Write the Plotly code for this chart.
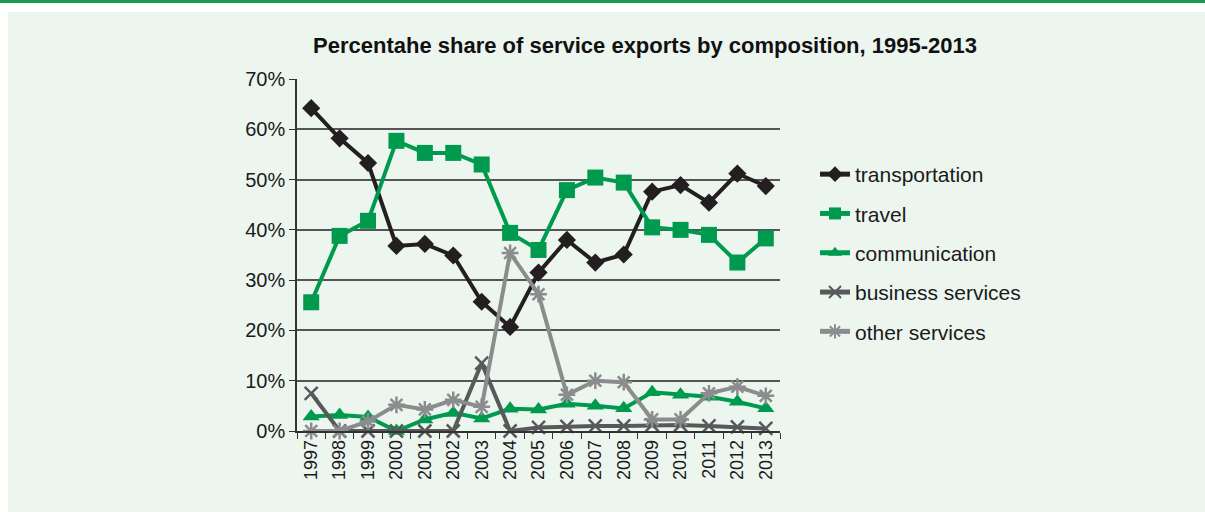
import plotly.graph_objects as go

years = [str(y) for y in range(1997, 2014)]

transportation = [64.2, 58.2, 53.3, 36.8, 37.2, 34.9, 25.7, 20.7, 31.5, 38.0, 33.5, 35.1, 47.6, 48.9, 45.4, 51.2, 48.7]
travel = [25.6, 38.8, 41.8, 57.7, 55.3, 55.3, 53.0, 39.4, 36.0, 47.9, 50.4, 49.4, 40.5, 40.0, 39.0, 33.5, 38.3]
communication = [2.9, 3.2, 2.8, 0.0, 2.3, 3.6, 2.5, 4.4, 4.3, 5.4, 5.0, 4.5, 7.7, 7.2, 6.8, 5.8, 4.5]
business_services = [7.5, 0.0, 0.0, 0.0, 0.0, 0.0, 13.5, 0.0, 0.7, 0.9, 1.0, 1.0, 1.2, 1.2, 1.0, 0.8, 0.5]
other_services = [0.0, 0.0, 1.9, 5.2, 4.3, 6.2, 4.8, 35.4, 27.2, 7.2, 10.0, 9.7, 2.3, 2.3, 7.5, 8.8, 7.0]

y_ticks = [0, 10, 20, 30, 40, 50, 60, 70]
y_tick_labels = [f"{v}%" for v in y_ticks]

BLACK = "#231f20"
GREEN = "#009a4e"
DARK_GREY = "#58595b"
GREY = "#8b8c8e"
FONT = "Liberation Sans"

series = [
    ("transportation", transportation, BLACK, "diamond", 14, None),
    ("travel", travel, GREEN, "square", 16, None),
    ("communication", communication, GREEN, "triangle-up", 15, None),
    ("business services", business_services, DARK_GREY, "x-thin-open", 13, 2.5),
    ("other services", other_services, GREY, "asterisk-open", 14, 2.5),
]

fig = go.Figure()
for name, vals, color, symbol, size, mlw in series:
    marker = dict(symbol=symbol, size=size, color=color)
    if mlw:
        marker["line"] = dict(color=color, width=mlw)
    else:
        marker["line"] = dict(width=0)
    fig.add_trace(go.Scatter(
        x=years, y=vals, name=name, mode="lines+markers",
        legendgroup=name,
        line=dict(color=color, width=4),
        marker=marker,
        cliponaxis=False,
    ))

# page decoration: green rule at top and tinted panel behind the chart
PW, PH = 483, 352
fig.add_shape(type="rect", xref="paper", yref="paper", layer="below",
              x0=(8 - 297) / PW, x1=(1205 - 297) / PW,
              y0=-81 / PH, y1=(512 - 12 - 81) / PH,
              fillcolor="#ecf6ef", line=dict(width=0))
fig.add_shape(type="rect", xref="paper", yref="paper", layer="below",
              x0=-297 / PW, x1=(1205 - 297) / PW,
              y0=(512 - 3 - 81) / PH, y1=(512 - 81) / PH,
              fillcolor="#1a9a50", line=dict(width=0))

fig.update_layout(
    width=1205, height=512,
    margin=dict(l=297, r=425, t=79, b=81),
    paper_bgcolor="white",
    plot_bgcolor="white",
    font=dict(family=FONT, color="#1a1a1a"),
    title=dict(
        text="<b>Percentahe share of service exports by composition, 1995-2013</b>",
        x=645 / 1205, xanchor="center", y=1 - 45 / 512, yanchor="middle",
        font=dict(family=FONT, size=22, color="#111111"),
    ),
    showlegend=True,
    legend=dict(
        x=(815 - 297) / PW, xanchor="left",
        y=(431 - 154) / PH, yanchor="top",
        bgcolor="rgba(0,0,0,0)",
        font=dict(family=FONT, size=21, color="#1a1a1a"),
        tracegroupgap=9,
        itemsizing="constant",
    ),
    xaxis=dict(
        type="category",
        tickson="boundaries",
        ticks="outside", ticklen=6, tickcolor="#333333",
        showline=True, linecolor="#333333", linewidth=1.5,
        showgrid=False,
        tickangle=-90,
        tickfont=dict(family=FONT, size=18, color="#1a1a1a"),
        range=[-0.5, 16.5],
    ),
    yaxis=dict(
        range=[0, 70],
        tickvals=y_ticks, ticktext=y_tick_labels,
        ticks="outside", ticklen=6, tickcolor="#333333",
        showline=True, linecolor="#333333", linewidth=1.5,
        showgrid=True, gridcolor="#555555", gridwidth=1.5,
        zeroline=False,
        tickfont=dict(family=FONT, size=20, color="#1a1a1a"),
    ),
)

fig.write_html("out.html")
